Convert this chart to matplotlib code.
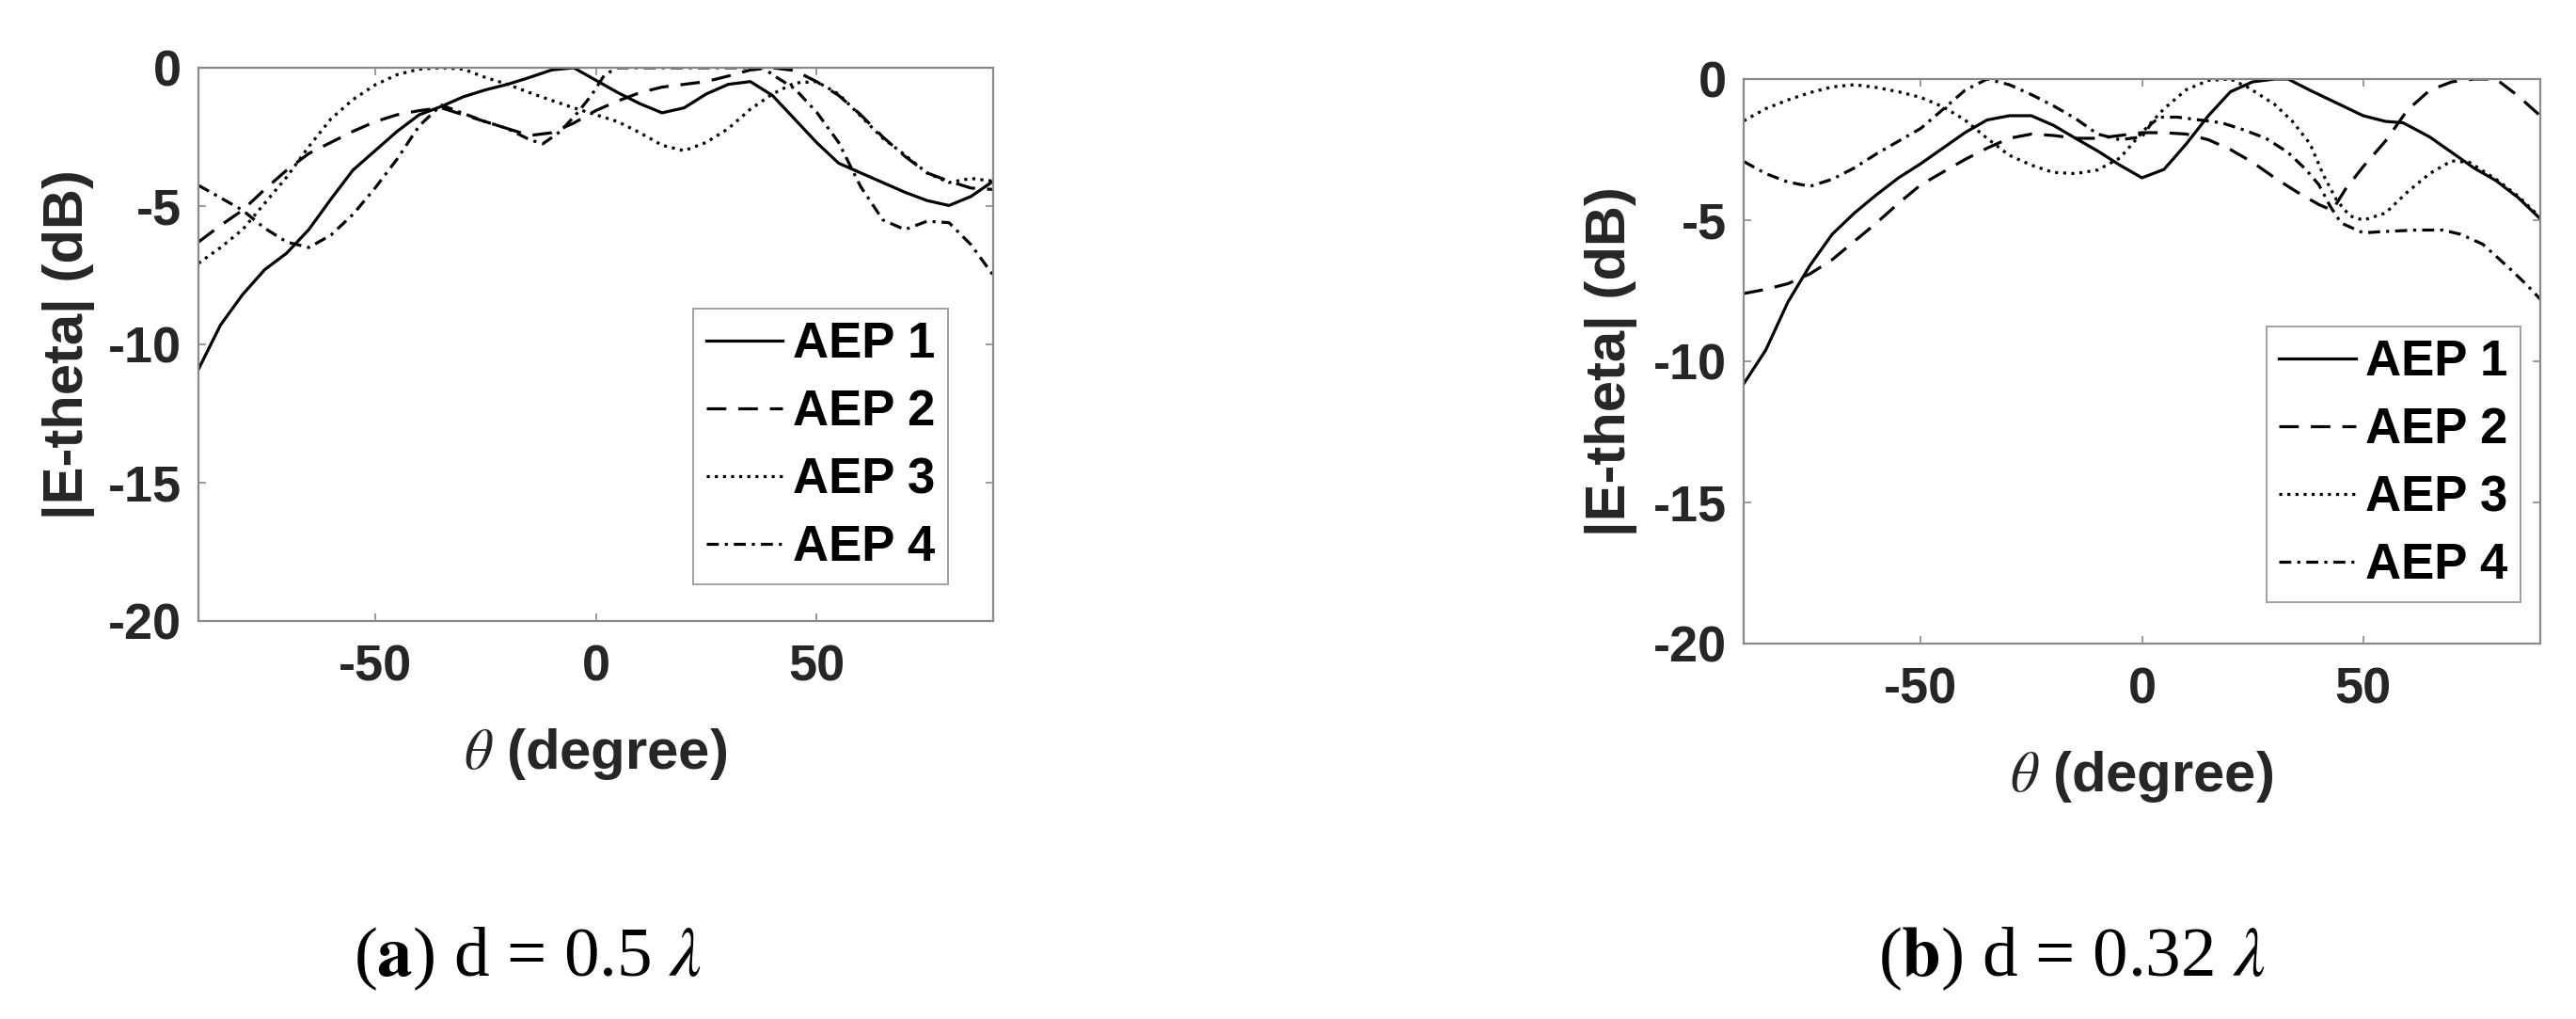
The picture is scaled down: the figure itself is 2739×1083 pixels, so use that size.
import matplotlib.pyplot as plt

plt.rcParams['axes.unicode_minus'] = False
plt.rcParams['mathtext.fontset'] = 'stix'
plt.rcParams['font.family'] = ['Liberation Sans', 'DejaVu Sans']

# ---- (a) d = 0.5 lambda ----
theta_a1 = [-90, -85, -80, -75, -70, -65, -60, -55, -50, -45, -40, -35, -30, -25, -20, -15, -10, -5, 0,
            5, 10, 15, 20, 25, 30, 35, 40, 45, 50, 55, 60, 65, 70, 75, 80, 85, 90]
db_a1 = [-10.9, -9.3, -8.2, -7.3, -6.7, -5.85, -4.75, -3.7, -3.0, -2.3, -1.7, -1.4, -1.05, -0.8, -0.6, -0.35, -0.08, 0.0, -0.45,
         -0.9, -1.3, -1.63, -1.45, -0.95, -0.6, -0.5, -1.0, -1.85, -2.7, -3.45, -3.8, -4.15, -4.5, -4.8, -4.98, -4.65, -4.1]

theta_a2 = [-90, -85, -80, -75, -70, -65, -60, -55, -50, -45, -40, -35, -30, -25, -20, -15, -10, -5, 0,
            5, 10, 15, 20, 25, 30, 35, 40, 45, 50, 55, 60, 65, 70, 75, 80, 85, 90]
db_a2 = [-6.3, -5.7, -5.15, -4.4, -3.7, -3.1, -2.7, -2.3, -1.95, -1.7, -1.55, -1.45, -1.7, -1.95, -2.2, -2.45, -2.35, -2.0, -1.55,
         -1.2, -0.9, -0.7, -0.6, -0.5, -0.3, -0.08, 0.0, -0.1, -0.5, -1.0, -1.7, -2.5, -3.2, -3.8, -4.1, -4.35, -4.4]

theta_a3 = [-90, -85, -80, -75, -70, -65, -60, -55, -50, -45, -40, -35, -30, -25, -20, -15, -10, -5, 0,
            5, 10, 15, 20, 25, 30, 35, 40, 45, 50, 55, 60, 65, 70, 75, 80, 85, 90]
db_a3 = [-7.07, -6.5, -5.85, -4.9, -3.95, -2.85, -1.85, -1.15, -0.62, -0.25, -0.05, 0.0, -0.05, -0.35, -0.6, -0.9, -1.18, -1.45, -1.7,
         -1.95, -2.35, -2.8, -3.0, -2.7, -2.2, -1.5, -0.95, -0.55, -0.5, -0.95, -1.75, -2.55, -3.15, -3.8, -4.15, -4.0, -4.1]

theta_a4 = [-90, -85, -80, -75, -70, -65, -60, -55, -50, -45, -40, -35, -30, -25, -20, -15, -12, -8, -4, -1,
            2, 5, 10, 20, 30, 38, 40, 45, 50, 55, 60, 65, 70, 75, 80, 85, 90]
db_a4 = [-4.25, -4.7, -5.15, -5.8, -6.3, -6.5, -6.05, -5.3, -4.35, -3.3, -2.1, -1.35, -1.65, -1.95, -2.2, -2.6, -2.75, -2.3, -1.6, -1.0,
         -0.25, 0.0, 0.0, 0.0, 0.0, 0.0, -0.25, -0.75, -1.6, -2.7, -4.3, -5.5, -5.85, -5.55, -5.6, -6.4, -7.5]

# ---- (b) d = 0.32 lambda ----
theta_b1 = [-90, -85, -80, -75, -70, -65, -60, -55, -50, -45, -40, -35, -30, -25, -20, -15, -10, -5, 0,
            5, 10, 15, 20, 25, 30, 33, 38, 44, 50, 55, 59, 65, 70, 75, 80, 85, 90]
db_b1 = [-10.8, -9.6, -7.9, -6.6, -5.5, -4.75, -4.1, -3.5, -3.0, -2.45, -1.9, -1.45, -1.3, -1.3, -1.64, -2.1, -2.55, -3.05, -3.5,
         -3.2, -2.3, -1.3, -0.45, -0.1, 0.0, 0.0, -0.4, -0.85, -1.3, -1.5, -1.55, -2.05, -2.6, -3.15, -3.6, -4.2, -4.95]

theta_b2 = [-90, -85, -80, -75, -70, -65, -60, -55, -50, -45, -40, -35, -30, -25, -20, -15, -10, -5, 0,
            5, 10, 15, 20, 25, 30, 35, 40, 43, 46, 50, 55, 60, 65, 70, 75, 80, 85, 90]
db_b2 = [-7.6, -7.45, -7.25, -6.9, -6.4, -5.75, -5.1, -4.4, -3.75, -3.3, -2.85, -2.45, -2.1, -1.95, -2.0, -2.1, -2.1, -2.0, -1.9,
         -1.9, -1.95, -2.15, -2.5, -2.95, -3.5, -4.0, -4.45, -4.65, -3.9, -3.1, -2.2, -1.1, -0.4, -0.1, 0.0, 0.0, -0.6, -1.3]

theta_b3 = [-90, -85, -80, -75, -70, -65, -60, -55, -50, -45, -40, -35, -30, -25, -20, -15, -10, -5, 0,
            5, 10, 15, 20, 24, 30, 34, 38, 41, 44, 47, 50, 55, 60, 65, 70, 74, 80, 85, 90]
db_b3 = [-1.48, -1.05, -0.74, -0.48, -0.28, -0.2, -0.3, -0.45, -0.65, -0.98, -1.45, -2.1, -2.7, -3.05, -3.31, -3.35, -3.22, -2.8, -1.9,
         -1.05, -0.38, -0.05, 0.0, -0.3, -0.9, -1.5, -2.3, -3.4, -4.3, -4.85, -5.0, -4.75, -4.0, -3.35, -2.9, -2.95, -3.55, -4.15, -4.9]

theta_b4 = [-90, -85, -80, -75, -70, -65, -60, -55, -50, -45, -40, -35, -30, -25, -20, -15, -10, -5, 0,
            2, 4, 8, 13, 18, 23, 28, 33, 37, 40, 42.5, 45, 50, 55, 62, 68, 72, 77, 83, 87, 90]
db_b4 = [-2.92, -3.35, -3.65, -3.8, -3.55, -3.15, -2.65, -2.2, -1.75, -1.08, -0.4, 0.0, -0.2, -0.55, -0.95, -1.4, -1.95, -2.15, -2.05,
         -1.6, -1.35, -1.35, -1.45, -1.55, -1.8, -2.1, -2.6, -3.2, -3.75, -4.5, -5.1, -5.45, -5.4, -5.35, -5.35, -5.5, -5.85, -6.7, -7.3, -7.8]

labels = ['AEP 1', 'AEP 2', 'AEP 3', 'AEP 4']
x_ticks = [-50, 0, 50]
x_tick_labels = ['-50', '0', '50']
y_ticks = [0, -5, -10, -15, -20]
y_tick_labels = ['0', '-5', '-10', '-15', '-20']

# line styles (solid, dashed, dotted, dash-dot)
styles = ['-', (0, (6.5, 4)), (0, (1, 1.7)), (0, (4, 2, 1, 2))]
lw = 2.3
W, H = 2739, 1083

fig = plt.figure(figsize=(W / 100, H / 100), dpi=100)
ax_a = fig.add_axes([211 / W, 1 - 660 / H, 845 / W, 588 / H])
ax_b = fig.add_axes([1854 / W, 1 - 684 / H, 847 / W, 600 / H])


def setup(ax, series, leg_anchor, ylab_x, xlab_y):
    for (t, d), ls, lab in zip(series, styles, labels):
        ax.plot(t, d, color='black', linestyle=ls, linewidth=lw, label=lab)
    ax.set_xlim(-90, 90)
    ax.set_ylim(-20, 0)
    ax.set_xticks(x_ticks)
    ax.set_xticklabels(x_tick_labels)
    ax.set_yticks(y_ticks)
    ax.set_yticklabels(y_tick_labels)
    ax.tick_params(direction='in', top=True, right=True, length=6, width=1.2,
                   color='#8a8a8a', labelsize=39, labelcolor='#262626')
    ax.tick_params(axis='x', pad=18)
    ax.tick_params(axis='y', pad=13)
    for lbl in ax.get_xticklabels() + ax.get_yticklabels():
        lbl.set_fontweight('bold')
    for s in ax.spines.values():
        s.set_color('#8a8a8a')
        s.set_linewidth(1.6)
    ax.set_ylabel('|E-theta| (dB)', fontsize=43, fontweight='bold', color='#262626')
    ax.yaxis.set_label_coords(ylab_x, 0.5)
    ax.set_xlabel(r'$\theta$ (degree)', fontsize=43, fontweight='bold', color='#262626')
    ax.xaxis.set_label_coords(0.5, xlab_y)
    leg = ax.legend(loc='upper left', bbox_to_anchor=leg_anchor,
                    prop={'weight': 'bold', 'size': 38}, frameon=True, fancybox=False,
                    edgecolor='#a0a0a0', framealpha=1, borderpad=0.25, labelspacing=0.42,
                    handlelength=1.55, handletextpad=0.2, borderaxespad=0)
    leg.get_frame().set_linewidth(1.4)


setup(ax_a, [(theta_a1, db_a1), (theta_a2, db_a2), (theta_a3, db_a3), (theta_a4, db_a4)],
      (0.623, 0.565), -0.13, -0.19)
setup(ax_b, [(theta_b1, db_b1), (theta_b2, db_b2), (theta_b3, db_b3), (theta_b4, db_b4)],
      (0.656, 0.562), -0.134, -0.186)

fig.text(561 / W, 1 - 1037 / H, r'($\mathbf{a}$) d = 0.5 $\lambda$', family='Liberation Serif',
         fontsize=54, ha='center', va='baseline')
fig.text(2203 / W, 1 - 1037 / H, r'($\mathbf{b}$) d = 0.32 $\lambda$', family='Liberation Serif',
         fontsize=54, ha='center', va='baseline')

fig.savefig('out.png', dpi=100)
